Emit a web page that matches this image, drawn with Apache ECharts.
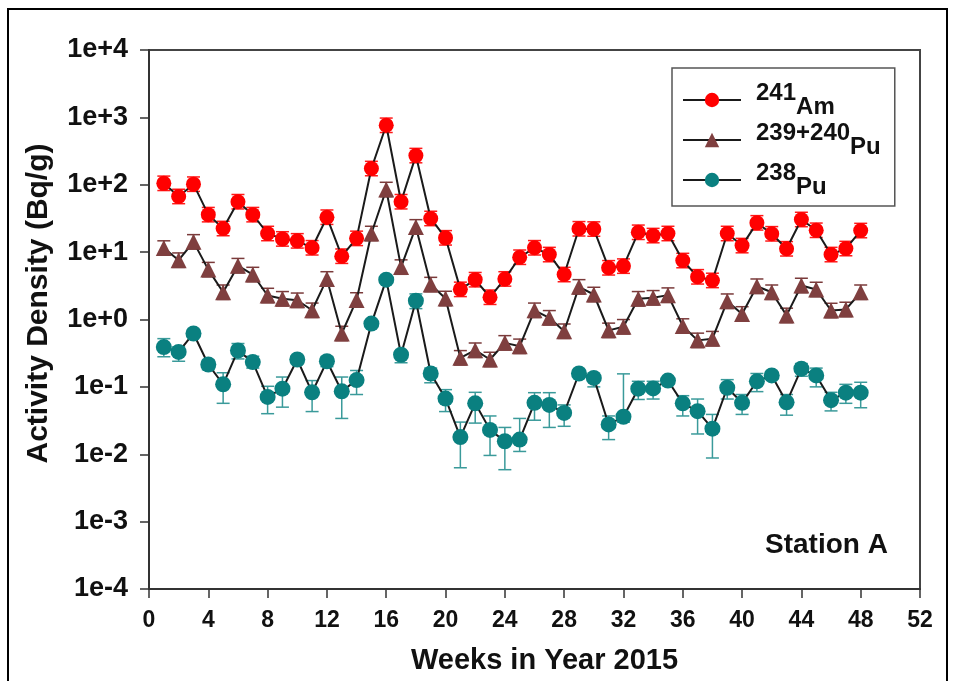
<!DOCTYPE html>
<html><head><meta charset="utf-8">
<script src="https://cdn.jsdelivr.net/npm/echarts@6/dist/echarts.min.js"></script>
<style>html,body{margin:0;padding:0;background:#fff}#c{width:954px;height:681px}</style>
</head><body><div id="c"></div>
<script>
// ---------- data ----------
const weeks = [1,2,3,4,5,6,7,8,9,10,11,12,13,14,15,16,17,18,19,20,21,22,23,24,25,26,27,28,29,30,31,32,33,34,35,36,37,38,39,40,41,42,43,44,45,46,47,48];

const am241 = [105,67,102,36,22.4,56,36,18.9,15.7,14.7,11.6,33,8.7,16,174,763,56,271,31.6,16.3,2.8,3.9,2.14,4.0,8.4,11.6,9.2,4.65,22.2,22,5.85,6.2,19.7,17.6,18.9,7.5,4.3,3.8,18.9,12.5,27.2,18.7,11.2,30.5,21.1,9.2,11.3,20.9];

const pu239240 = [11.5,7.6,14.2,5.5,2.54,6.3,4.65,2.27,2.03,1.93,1.37,4.0,0.62,1.95,18.9,85,6.0,23.7,3.3,2.05,0.27,0.35,0.255,0.45,0.40,1.37,1.06,0.67,3.05,2.35,0.69,0.78,2.03,2.1,2.3,0.80,0.49,0.52,1.87,1.21,3.12,2.54,1.15,3.2,2.79,1.36,1.41,2.54];

const pu238 = [0.39,0.33,0.62,0.215,0.109,0.347,0.233,0.071,0.094,0.255,0.083,0.24,0.086,0.126,0.87,3.9,0.30,1.9,0.158,0.067,0.018,0.057,0.023,0.0156,0.0165,0.058,0.054,0.041,0.158,0.136,0.0277,0.036,0.094,0.095,0.124,0.057,0.0436,0.024,0.097,0.058,0.121,0.148,0.059,0.186,0.148,0.0635,0.082,0.082];
const pu238Hi = [0.52,0.39,0.68,0.25,0.162,0.44,0.285,0.102,0.14,0.29,0.124,0.28,0.14,0.175,0.95,4.3,0.34,2.4,0.19,0.091,0.030,0.083,0.037,0.025,0.034,0.082,0.082,0.054,0.175,0.15,0.037,0.156,0.121,0.121,0.135,0.074,0.066,0.039,0.128,0.077,0.158,0.165,0.077,0.222,0.19,0.083,0.109,0.117];
const pu238Lo = [0.28,0.24,0.56,0.18,0.057,0.26,0.19,0.040,0.05,0.22,0.043,0.2,0.034,0.077,0.8,3.5,0.228,1.45,0.115,0.043,0.0063,0.029,0.0096,0.0059,0.011,0.032,0.025,0.026,0.14,0.1,0.0165,0.03,0.065,0.066,0.11,0.037,0.02,0.0088,0.066,0.039,0.085,0.13,0.038,0.144,0.1,0.044,0.057,0.049];

// small, roughly constant relative uncertainty of the 241Am and 239+240Pu points (caps sit at the marker edges)
const amRelErr = 0.28;
const pu239RelErr = 0.28;

const seriesNames = ['241Am', '239+240Pu', '238Pu'];
const legendMass = ['241', '239+240', '238'];
const legendElem = ['Am', 'Pu', 'Pu'];

const yTickExp = [-4,-3,-2,-1,0,1,2,3,4];
const yTickLabels = ['1e-4','1e-3','1e-2','1e-1','1e+0','1e+1','1e+2','1e+3','1e+4'];

const xTitle = 'Weeks in Year 2015';
const yTitle = 'Activity Density (Bq/g)';
const stationLabel = 'Station A';

// ---------- chart ----------
const FONT = '"Liberation Sans", Arial, sans-serif';
const chart = echarts.init(document.getElementById('c'), null, {renderer: 'canvas'});

function errSeries(lo, hi, color, capW) {
  return {
    type: 'custom', silent: true, z: 1,
    data: weeks.map((w, i) => [w, lo[i], hi[i]]),
    encode: {x: 0, y: [1, 2]},
    renderItem(params, api) {
      const x = api.value(0);
      const p1 = api.coord([x, api.value(1)]);
      const p2 = api.coord([x, api.value(2)]);
      const h = capW / 2;
      const st = {stroke: color, lineWidth: 1.5};
      return {type: 'group', children: [
        {type: 'line', shape: {x1: p1[0], y1: p1[1], x2: p2[0], y2: p2[1]}, style: st},
        {type: 'line', shape: {x1: p1[0] - h, y1: p1[1], x2: p1[0] + h, y2: p1[1]}, style: st},
        {type: 'line', shape: {x1: p2[0] - h, y1: p2[1], x2: p2[0] + h, y2: p2[1]}, style: st}
      ]};
    }
  };
}

function lineSeries(name, vals, symbol, size, color) {
  return {
    name, type: 'line', z: 3,
    data: weeks.map((w, i) => [w, vals[i]]),
    symbol, symbolSize: size, showAllSymbol: true,
    lineStyle: {color: '#1a1a1a', width: 2},
    itemStyle: {color: color, opacity: 1},
    emphasis: {disabled: true},
    animation: false
  };
}

const option = {
  animation: false,
  backgroundColor: '#fff',
  textStyle: {fontFamily: FONT},
  grid: {left: 149, right: 34, top: 50, bottom: 92, show: true, borderColor: '#444', borderWidth: 2, backgroundColor: 'transparent'},
  title: {text: stationLabel, left: 760, top: 526, textStyle: {fontFamily: FONT, fontSize: 28, fontWeight: 'bold', color: '#111'}},
  legend: {
    orient: 'vertical', left: 672, top: 68,
    data: seriesNames,
    itemWidth: 58, itemHeight: 18, itemGap: 2,
    padding: [13, 14, 7, 10],
    borderColor: '#555', borderWidth: 1.5, backgroundColor: '#fff',
    selectedMode: false,
    formatter(name) {
      const i = seriesNames.indexOf(name);
      return '{a|' + legendMass[i] + '}{b|' + legendElem[i] + '}';
    },
    textStyle: {
      fontFamily: FONT, fontWeight: 'bold', color: '#111',
      rich: {
        a: {fontSize: 24, fontWeight: 'bold', lineHeight: 24, padding: [0, 0, 14, 10], fontFamily: FONT, color: '#111'},
        b: {fontSize: 24, fontWeight: 'bold', lineHeight: 24, padding: [14, 0, 0, 0], fontFamily: FONT, color: '#111'}
      }
    }
  },
  xAxis: {
    type: 'value', min: 0, max: 52, interval: 4,
    name: xTitle, nameLocation: 'middle', nameGap: 57,
    nameTextStyle: {fontFamily: FONT, fontSize: 29, fontWeight: 'bold', color: '#111', padding: [0, 0, 0, 20]},
    axisLine: {show: true, lineStyle: {color: '#333', width: 2}},
    axisTick: {show: true, inside: false, length: 9, lineStyle: {color: '#333', width: 1.5}},
    axisLabel: {fontFamily: FONT, fontSize: 23, fontWeight: 'bold', color: '#111', margin: 20},
    splitLine: {show: false}
  },
  yAxis: {
    type: 'log', logBase: 10, min: 1e-4, max: 1e4, splitNumber: 8,
    name: yTitle, nameLocation: 'middle', nameGap: 95,
    nameTextStyle: {fontFamily: FONT, fontSize: 30, fontWeight: 'bold', color: '#111', padding: [0, 0, 0, 32]},
    axisLine: {show: true, lineStyle: {color: '#333', width: 2}},
    axisTick: {show: true, inside: false, length: 9, lineStyle: {color: '#333', width: 1.5}},
    minorTick: {show: false},
    axisLabel: {
      fontFamily: FONT, fontSize: 27, fontWeight: 'bold', color: '#111', margin: 21,
      formatter(v) {
        const e = Math.round(Math.log10(v));
        const k = yTickExp.indexOf(e);
        return k >= 0 ? yTickLabels[k] : '';
      }
    },
    splitLine: {show: false}
  },
  graphic: [{
    type: 'rect', z: 100, silent: true,
    shape: {x: 8, y: 9, width: 939, height: 700},
    style: {fill: 'none', stroke: '#000', lineWidth: 2}
  }],
  series: [
    errSeries(am241.map(v => v / (1 + amRelErr)), am241.map(v => v * (1 + amRelErr)), '#ff1a1a', 13),
    errSeries(pu239240.map(v => v / (1 + pu239RelErr)), pu239240.map(v => v * (1 + pu239RelErr)), '#7a3a3a', 13),
    errSeries(pu238Lo, pu238Hi, '#3a9a9a', 13),
    lineSeries(seriesNames[0], am241, 'circle', 15, '#ff0000'),
    lineSeries(seriesNames[1], pu239240, 'triangle', 16, '#7f3f3f'),
    lineSeries(seriesNames[2], pu238, 'circle', 16, '#0a8080')
  ]
};
chart.setOption(option);
</script></body></html>
